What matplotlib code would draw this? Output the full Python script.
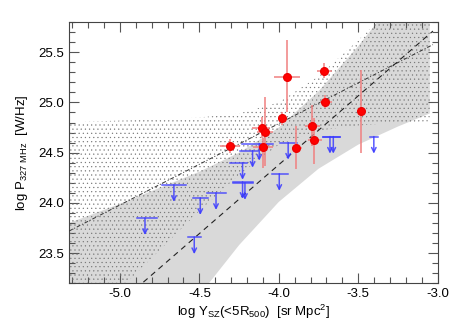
import matplotlib
matplotlib.use("Agg")
import matplotlib.pyplot as plt
import numpy as np
from matplotlib.ticker import MultipleLocator

plt.rcParams['font.family'] = ['Liberation Sans', 'DejaVu Sans']
plt.rcParams['mathtext.default'] = 'regular'
plt.rcParams['hatch.linewidth'] = 0.35

# ---- data ----
# detections: log Y, log P, x errors (lo, hi), y errors (lo, hi)
det_x = [-3.951, -3.716, -3.710, -3.483, -3.980, -4.108, -4.087, -3.792, -3.777, -4.098, -3.890, -4.308]
det_y = [25.25, 25.31, 25.00, 24.91, 24.84, 24.75, 24.71, 24.77, 24.63, 24.56, 24.55, 24.57]
det_xlo = [0.078, 0.046, 0.031, 0.027, 0.020, 0.059, 0.053, 0.044, 0.038, 0.063, 0.030, 0.062]
det_xhi = [0.084, 0.048, 0.042, 0.025, 0.020, 0.052, 0.052, 0.051, 0.047, 0.063, 0.034, 0.063]
det_ylo = [0.35, 0.07, 0.06, 0.41, 0.06, 0.10, 0.34, 0.20, 0.24, 0.21, 0.21, 0.07]
det_yhi = [0.37, 0.08, 0.07, 0.41, 0.06, 0.10, 0.34, 0.20, 0.21, 0.09, 0.22, 0.07]

# upper limits: log Y, log P limit, x range
ul_x = [-4.842, -4.660, -4.494, -4.395, -4.532, -4.228, -4.213, -3.997, -4.123, -4.165, -4.228, -3.941, -3.678, -3.657, -3.402]
ul_y = [23.85, 24.18, 24.05, 24.10, 23.66, 24.21, 24.20, 24.29, 24.59, 24.52, 24.40, 24.60, 24.66, 24.66, 24.66]
ul_xlo = [-4.894, -4.733, -4.538, -4.450, -4.570, -4.287, -4.287, -4.045, -4.234, -4.244, -4.308, -3.993, -3.720, -3.720, -3.427]
ul_xhi = [-4.768, -4.586, -4.444, -4.333, -4.492, -4.161, -4.161, -3.941, -4.035, -4.129, -4.203, -3.888, -3.616, -3.616, -3.375]

# fit lines (end points)
fit_x = [-5.32, -3.03]
fit_dashed = [22.57, 25.71]
fit_dashdot = [23.72, 25.575]

# confidence bands (boundaries read along x)
band_x = [-5.32, -5.0, -4.75, -4.5, -4.25, -4.0, -3.75, -3.5, -3.25, -3.05]
gray_up = [23.80, 23.99, 24.15, 24.31, 24.50, 24.75, 25.11, 25.56, 26.06, 26.47]
gray_lo = [21.35, 22.03, 22.57, 23.08, 23.58, 24.01, 24.34, 24.58, 24.76, 24.89]
dot_up = [24.80, 24.82, 24.83, 24.85, 24.89, 25.00, 25.26, 25.62, 26.00, 26.31]
dot_lo = [22.64, 23.14, 23.53, 23.92, 24.28, 24.58, 24.72, 24.77, 24.80, 24.81]

# ---- plot ----
fig = plt.figure(figsize=(4.58, 3.27), dpi=100)
ax = fig.add_axes([0.1507, 0.1336, 0.805, 0.7991])

ax.fill_between(band_x, gray_lo, gray_up, facecolor='#d9d9d9', edgecolor='none', zorder=1)
ax.fill_between(band_x, dot_lo, dot_up, facecolor='none', edgecolor='#777777',
                hatch='....', linewidth=0, zorder=2)

ax.plot(fit_x, fit_dashed, color='#222222', lw=0.8, dashes=(5, 4), zorder=3)
ax.plot(fit_x, fit_dashdot, color='#333333', lw=0.7, dashes=(4, 2, 1, 2), zorder=3)

blue = '#3c3cff'
for x, y, lo, hi in zip(ul_x, ul_y, ul_xlo, ul_xhi):
    ax.plot([lo, hi], [y, y], color=blue, lw=1.1, alpha=0.85, zorder=4)
    ax.annotate('', xy=(x, y - 0.17), xytext=(x, y),
                arrowprops=dict(arrowstyle='->', color=blue, lw=1.1, alpha=0.85,
                                shrinkA=0, shrinkB=0, mutation_scale=8), zorder=4)

ax.errorbar(det_x, det_y, xerr=[det_xlo, det_xhi], yerr=[det_ylo, det_yhi],
            fmt='none', ecolor='#f08080', elinewidth=1.1, capsize=0, zorder=5)
ax.plot(det_x, det_y, 'o', color='#ff0000', ms=5.5, mec='#ee0000', zorder=6)

ax.set_xlim(-5.32, -3.0)
ax.set_ylim(23.2, 25.8)
ax.xaxis.set_major_locator(MultipleLocator(0.5))
ax.xaxis.set_minor_locator(MultipleLocator(0.1))
ax.yaxis.set_major_locator(MultipleLocator(0.5))
ax.yaxis.set_minor_locator(MultipleLocator(0.1))
ax.tick_params(which='both', direction='in', top=True, right=True, colors='#555555',
               labelcolor='black', labelsize=9.5)
ax.tick_params(which='major', length=7, width=0.8)
ax.tick_params(which='minor', length=4, width=0.8)
for s in ax.spines.values():
    s.set_color('#444444')
    s.set_linewidth(0.8)
ax.xaxis.set_major_formatter(matplotlib.ticker.FormatStrFormatter('%.1f'))
ax.yaxis.set_major_formatter(matplotlib.ticker.FormatStrFormatter('%.1f'))
ax.set_xlabel('log Y$_{SZ}$(<5R$_{500}$)  [sr Mpc$^2$]', fontsize=9.5, labelpad=2)
ax.set_ylabel('log P$_{327\\ MHz}$  [W/Hz]', fontsize=9.5, labelpad=6)

fig.savefig('out.png', dpi=100)
